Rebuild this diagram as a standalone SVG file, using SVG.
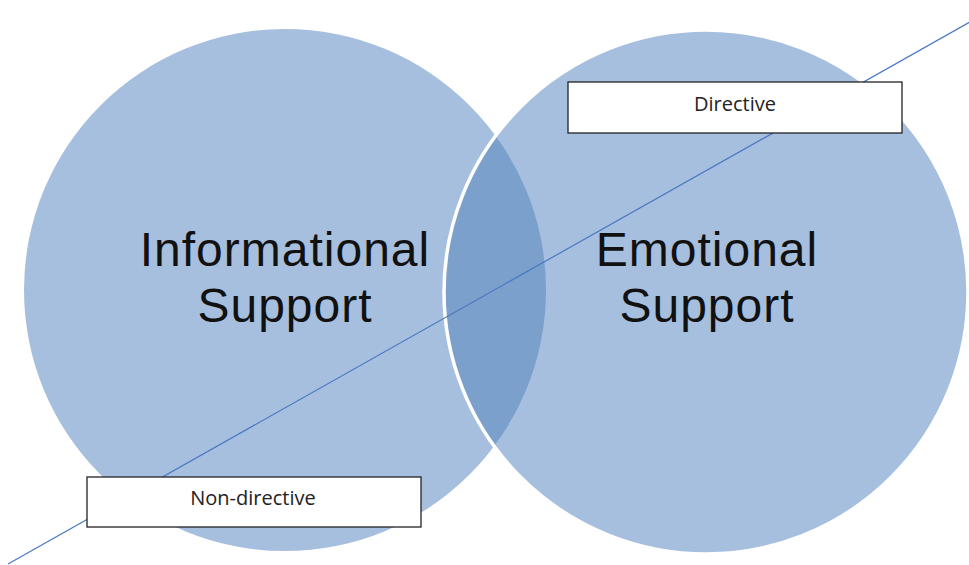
<svg xmlns="http://www.w3.org/2000/svg" width="969" height="565" viewBox="0 0 969 565">
  <style>
    .c { fill: #A7BFDE; }
    .ov { fill: #7BA0CC; }
    .big { font-family: "Liberation Sans", Arial, sans-serif; font-size: 48px; letter-spacing: 1px; fill: #111; text-anchor: middle; }
    .box { fill: #fff; stroke: #222; stroke-width: 1.3; }
    .lbl { font-family: "Open Sans", "Noto Sans", sans-serif; font-size: 20px; fill: #222; text-anchor: middle; }
  </style>
  <defs>
    <clipPath id="clipR"><circle cx="706" cy="292" r="262"/></clipPath>
  </defs>
  <rect width="969" height="565" fill="#fff"/>
  <g id="informational">
    <circle class="c" cx="285" cy="290" r="261"/>
  </g>
  <g id="emotional">
    <circle class="c" cx="706" cy="292" r="262"/>
  </g>
  <g id="overlap">
    <circle class="ov" cx="285" cy="290" r="261" clip-path="url(#clipR)"/>
    <circle cx="706" cy="292" r="262" fill="none" stroke="#fff" stroke-width="3.5"/>
  </g>
  <g id="labels-big">
    <text class="big"><tspan x="285" y="266">Informational</tspan><tspan x="285" y="322">Support</tspan></text>
    <text class="big"><tspan x="707" y="266">Emotional</tspan><tspan x="707" y="322">Support</tspan></text>
  </g>
  <g id="connectors">
    <line x1="8" y1="564" x2="970" y2="22" stroke="#4A78C2" stroke-width="1.2"/>
  </g>
  <g id="directive">
    <rect class="box" x="568" y="82" width="334" height="51"/>
    <text class="lbl" x="735" y="111">Directive</text>
  </g>
  <g id="non-directive">
    <rect class="box" x="87" y="477" width="334" height="50"/>
    <text class="lbl" x="253" y="505">Non-directive</text>
  </g>
</svg>
